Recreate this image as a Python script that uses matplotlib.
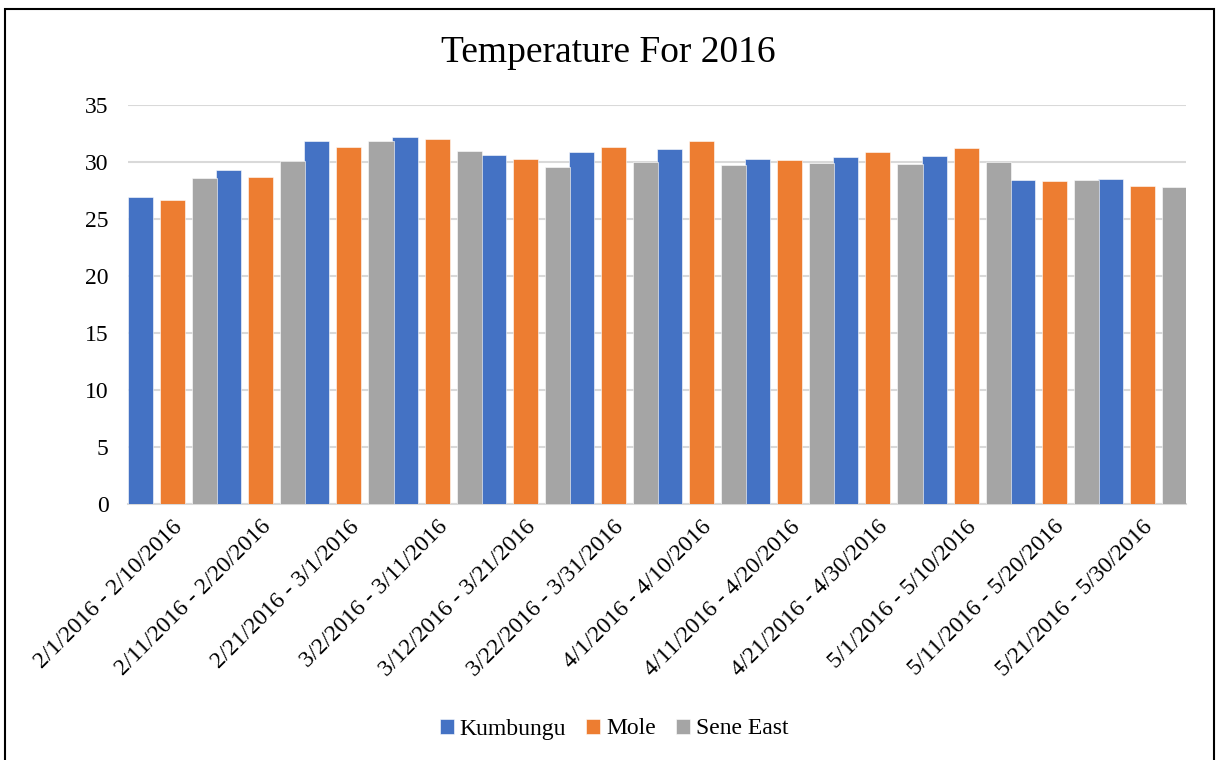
import matplotlib.pyplot as plt
from matplotlib.patches import Rectangle
import numpy as np

# Ten-day periods
periods = ['2/1/2016 - 2/10/2016', '2/11/2016 - 2/20/2016', '2/21/2016 - 3/1/2016',
           '3/2/2016 - 3/11/2016', '3/12/2016 - 3/21/2016', '3/22/2016 - 3/31/2016',
           '4/1/2016 - 4/10/2016', '4/11/2016 - 4/20/2016', '4/21/2016 - 4/30/2016',
           '5/1/2016 - 5/10/2016', '5/11/2016 - 5/20/2016', '5/21/2016 - 5/30/2016']

kumbungu = [26.9, 29.3, 31.8, 32.2, 30.6, 30.9, 31.1, 30.3, 30.4, 30.5, 28.4, 28.5]
mole = [26.7, 28.7, 31.3, 32.0, 30.3, 31.3, 31.8, 30.2, 30.9, 31.2, 28.3, 27.9]
sene_east = [28.6, 30.1, 31.8, 31.0, 29.6, 30.0, 29.7, 29.9, 29.8, 30.0, 28.4, 27.8]

series = [('Kumbungu', kumbungu, '#4472C4'),
          ('Mole', mole, '#ED7D31'),
          ('Sene East', sene_east, '#A5A5A5')]

plt.rcParams['font.family'] = ['Liberation Serif', 'DejaVu Serif']

fig = plt.figure(figsize=(12.16, 7.6), dpi=100)
ax = fig.add_axes([128 / 1216, 1 - 504 / 760, 1058 / 1216, 399 / 760])

x = np.arange(len(periods))
width = 25 / 88
step = 32 / 88
for k, (name, vals, color) in enumerate(series):
    ax.bar(x - 0.5 + width / 2 + k * step, vals, width=width, color=color,
           label=name, zorder=3, edgecolor='white', linewidth=0.4)

ax.set_xlim(-0.5, len(periods) - 0.5)
ax.set_ylim(0, 35)
ax.set_yticks(range(0, 36, 5))
ax.yaxis.grid(True, color='#d9d9d9', linewidth=1.5, zorder=0)
ax.set_axisbelow(True)

for side in ['top', 'right', 'left']:
    ax.spines[side].set_visible(False)
ax.spines['bottom'].set_color('#d9d9d9')
ax.spines['bottom'].set_linewidth(1.5)

ax.set_xticks(x)
ax.set_xticklabels(periods, rotation=45, ha='right', rotation_mode='anchor', fontsize=17)
ax.tick_params(axis='x', length=0, pad=9)
ax.tick_params(axis='y', length=0, pad=14, labelsize=17)

fig.text(0.5, 1 - 53 / 760, 'Temperature For 2016', ha='center', va='center', fontsize=27)

fig.legend(loc='center', bbox_to_anchor=(0.505, 1 - 729 / 760), ncol=3, frameon=False,
           fontsize=17, handlelength=0.6, handleheight=0.6, handletextpad=0.25,
           columnspacing=0.85)

# outer frame
fig.patches.append(Rectangle((5 / 1216, -0.01), 1209 / 1216, 1 - 9 / 760 + 0.01,
                             transform=fig.transFigure, fill=False,
                             edgecolor='black', linewidth=1.5))

fig.savefig('out.png', dpi=100)
